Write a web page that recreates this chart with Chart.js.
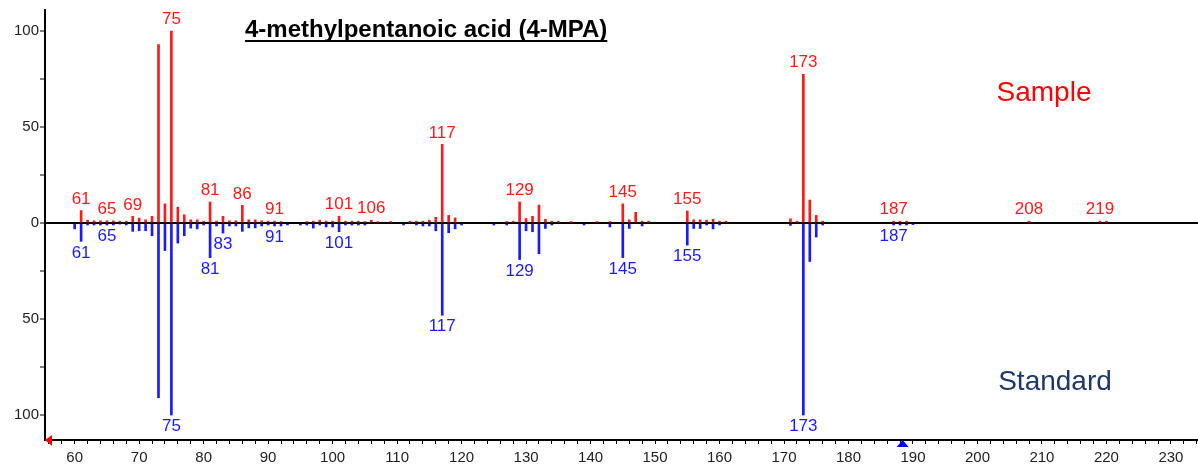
<!DOCTYPE html>
<html>
<head>
<meta charset="utf-8">
<script src="https://cdn.jsdelivr.net/npm/chart.js@4.4.1/dist/chart.umd.min.js"></script>
<style>
  body { margin: 0; background: #fff; }
  #wrap { width: 1198px; height: 470px; }
</style>
</head>
<body>
<div id="wrap"><canvas id="spectrum"></canvas></div>
<script>
// m/z and relative intensities
const sampleMz = [61, 62, 63, 64, 65, 66, 67, 68, 69, 70, 71, 72, 73, 74, 75, 76, 77, 78, 79, 80,
  81, 82, 83, 84, 85, 86, 87, 88, 89, 90, 91, 92, 96, 97, 98, 99, 100, 101, 102, 103, 104, 105,
  106, 107, 109, 112, 113, 114, 115, 116, 117, 118, 119, 127, 128, 129, 130, 131, 132, 133, 134,
  135, 137, 141, 143, 145, 146, 147, 148, 149, 155, 156, 157, 158, 159, 160, 161, 171, 172, 173,
  174, 175, 176, 187, 188, 189, 208, 219, 220];
const sampleInt = [6.5, 1.5, 1.2, 1.2, 1.2, 1.2, 1, 1, 3.5, 2.6, 1.7, 3.5, 93, 10, 100, 8.3, 4.3, 1.7, 1.7, 1,
  11, 1, 3.5, 1.2, 1.2, 9.2, 1.7, 1.7, 1.2, 1, 1, 0.8, 0.8, 1, 1.5, 1, 1, 3.6, 1, 1, 1, 0.8,
  1.5, 0.8, 0.8, 1, 1, 1, 1.5, 3, 41, 4, 2.7, 0.8, 1, 11, 2.4, 3.5, 9.4, 2, 1,
  1, 0.8, 0.8, 0.8, 10, 1.7, 5.6, 1, 1, 6.3, 1.7, 1.7, 1.5, 2, 1, 1, 2.2, 1, 77.5,
  12, 4, 1, 1, 1, 1, 1, 1, 1];

const standardMz = [60, 61, 62, 63, 64, 65, 66, 67, 68, 69, 70, 71, 72, 73, 74, 75, 76, 77, 78, 79,
  80, 81, 82, 83, 84, 85, 86, 87, 88, 89, 90, 91, 92, 93, 95, 96, 97, 98, 99, 100, 101, 102, 103,
  104, 105, 111, 113, 114, 115, 116, 117, 118, 119, 120, 125, 127, 129, 130, 131, 132, 133, 134,
  139, 143, 145, 146, 148, 155, 156, 157, 158, 159, 160, 171, 173, 174, 175, 176, 187, 188, 189, 190];
const standardInt = [3, 9.5, 1, 1, 1, 1, 1, 0.5, 1, 4.3, 4, 4, 6.6, 91, 14.3, 100, 10.4, 6.6, 2.6, 3,
  1, 18, 1.5, 5.2, 1.5, 1.5, 4.3, 2.5, 2.5, 1.5, 1, 1.5, 1.5, 1, 1, 1, 2.6, 1, 2, 2, 4.5, 1, 1,
  1, 1, 1, 1, 1.5, 1.5, 4, 48, 5, 3, 1, 1, 1, 19, 4, 4.5, 16, 2.8, 1,
  1, 2, 18, 2.8, 1.5, 11.5, 2.8, 2.8, 1, 3, 1, 1.2, 100, 20, 7.3, 1, 1, 1, 1, 0.8];

const sampleLabels = [61, 65, 69, 75, 81, 86, 91, 101, 106, 117, 129, 145, 155, 173, 187, 208, 219];
const standardLabels = [61, 65, 75, 81, 83, 91, 101, 117, 129, 145, 155, 173, 187];

const xMin = 55.4, xMax = 234.2;
const yMin = -113, yMax = 111;
const cursorMz = 188.4;

const RED = '#ff1a1a';
const BLUE = '#1a1aff';
const FONT = '"Liberation Sans", Arial, sans-serif';

const sampleData = sampleMz.map((m, i) => ({ x: m, y: sampleInt[i] }));
const standardData = standardMz.map((m, i) => ({ x: m, y: -standardInt[i] }));

function intensityOf(mzs, ints, m) {
  const i = mzs.indexOf(m);
  return i < 0 ? 0 : ints[i];
}

const peakLabels = {
  id: 'peakLabels',
  afterDatasetsDraw(chart) {
    const ctx = chart.ctx;
    const xs = chart.scales.x, ys = chart.scales.y;
    ctx.save();
    ctx.font = '17px ' + FONT;
    ctx.textAlign = 'center';
    ctx.fillStyle = RED;
    ctx.textBaseline = 'bottom';
    sampleLabels.forEach(m => {
      const v = intensityOf(sampleMz, sampleInt, m);
      ctx.fillText(String(m), xs.getPixelForValue(m), ys.getPixelForValue(v) - 3);
    });
    ctx.fillStyle = BLUE;
    ctx.textBaseline = 'top';
    standardLabels.forEach(m => {
      const v = intensityOf(standardMz, standardInt, m);
      ctx.fillText(String(m), xs.getPixelForValue(m), ys.getPixelForValue(-v) + 3);
    });
    ctx.restore();
  }
};

const decorations = {
  id: 'decorations',
  afterDraw(chart) {
    const ctx = chart.ctx;
    const xs = chart.scales.x;
    const area = chart.chartArea;
    ctx.save();
    // title, bold and underlined
    const title = '4-methylpentanoic acid (4-MPA)';
    ctx.font = 'bold 24px ' + FONT;
    ctx.fillStyle = '#000';
    ctx.textAlign = 'left';
    ctx.textBaseline = 'alphabetic';
    const tw = Math.min(ctx.measureText(title).width, 435);
    ctx.fillText(title, 245, 37, 435);
    ctx.fillRect(245, 40, tw, 2);

    ctx.font = '28px ' + FONT;
    ctx.textAlign = 'center';
    ctx.fillStyle = '#ff0000';
    ctx.fillText('Sample', 1044, 101);
    ctx.fillStyle = '#1f3864';
    ctx.fillText('Standard', 1055, 390);

    // cursor markers on the m/z axis
    const y0 = area.bottom;
    ctx.fillStyle = '#ff0000';
    ctx.beginPath();
    ctx.moveTo(area.left, y0);
    ctx.lineTo(area.left + 7, y0 - 5);
    ctx.lineTo(area.left + 7, y0 + 6);
    ctx.closePath();
    ctx.fill();
    const cx = xs.getPixelForValue(cursorMz);
    ctx.fillStyle = '#0000ff';
    ctx.beginPath();
    ctx.moveTo(cx, y0);
    ctx.lineTo(cx - 6, y0 + 7);
    ctx.lineTo(cx + 6, y0 + 7);
    ctx.closePath();
    ctx.fill();
    ctx.restore();
  }
};

new Chart(document.getElementById('spectrum'), {
  type: 'bar',
  data: {
    datasets: [
      { label: 'Sample', data: sampleData, backgroundColor: RED, barThickness: 2, grouped: false },
      { label: 'Standard', data: standardData, backgroundColor: BLUE, barThickness: 2, grouped: false }
    ]
  },
  options: {
    responsive: true,
    maintainAspectRatio: false,
    animation: false,
    layout: { padding: { top: 10, right: 0, left: 0, bottom: 0 } },
    plugins: {
      legend: { display: false },
      tooltip: { enabled: false }
    },
    scales: {
      x: {
        type: 'linear',
        min: xMin,
        max: xMax,
        offset: false,
        afterBuildTicks(scale) {
          const t = [];
          for (let v = 56; v <= 234; v += 2) t.push({ value: v });
          scale.ticks = t;
        },
        afterFit(scale) {
          scale.height = 30;
          scale.paddingLeft = 0;
          scale.paddingRight = 0;
        },
        ticks: {
          autoSkip: false,
          maxRotation: 0,
          padding: 5,
          color: '#222',
          font: { family: FONT, size: 15 },
          callback: v => (v % 10 === 0 ? String(v) : '')
        },
        grid: { offset: false, drawOnChartArea: false, tickLength: 4, tickColor: '#000' },
        border: { color: '#000', width: 2 }
      },
      y: {
        min: yMin,
        max: yMax,
        afterBuildTicks(scale) {
          scale.ticks = [-100, -75, -50, -25, 0, 25, 50, 75, 100].map(v => ({ value: v }));
        },
        afterFit(scale) { scale.width = 45; },
        ticks: {
          padding: 1,
          color: '#222',
          font: { family: FONT, size: 15 },
          callback: v => (v % 50 === 0 ? String(Math.abs(v)) : '')
        },
        grid: {
          color: c => (c.tick && c.tick.value === 0 ? '#000' : 'rgba(0,0,0,0)'),
          lineWidth: 2,
          tickColor: '#000',
          tickLength: 5,
          tickWidth: 1
        },
        border: { color: '#000', width: 2 }
      }
    }
  },
  plugins: [peakLabels, decorations]
});
</script>
</body>
</html>
